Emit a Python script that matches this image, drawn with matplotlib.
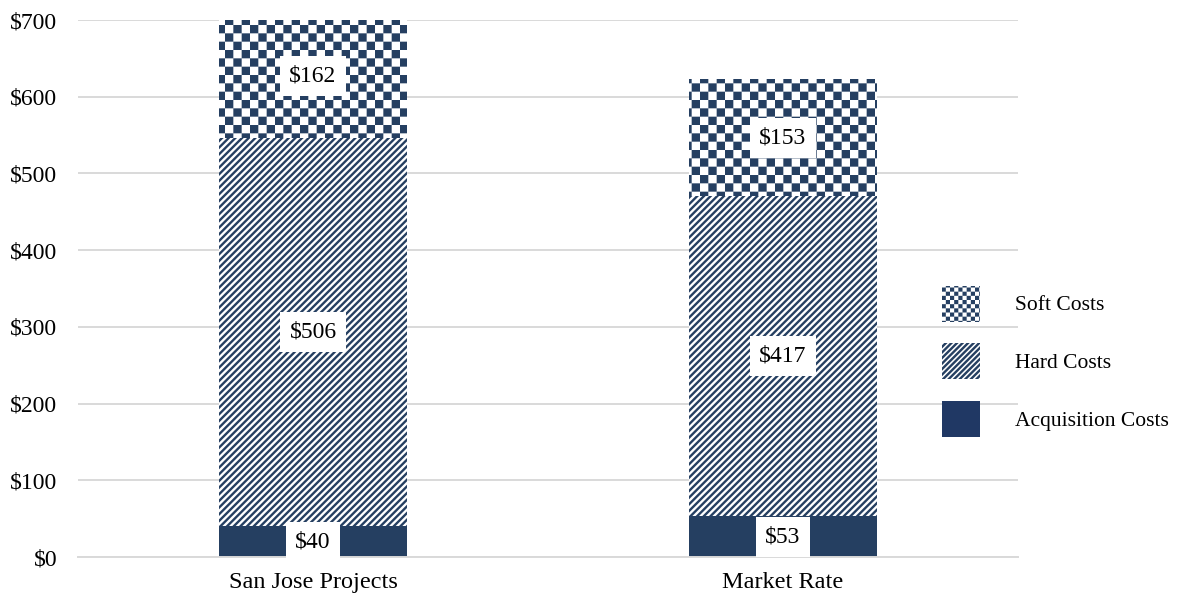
import warnings
import numpy as np
import matplotlib
matplotlib.use("Agg")
import matplotlib.pyplot as plt
import matplotlib.hatch as mhatch
from matplotlib.path import Path
from matplotlib.patches import Patch

warnings.filterwarnings("ignore")

# ---- data ----
categories = ["San Jose Projects", "Market Rate"]
acquisition = [40, 53]
hard = [506, 417]
soft = [162, 153]
legend_labels = ["Soft Costs", "Hard Costs", "Acquisition Costs"]
ytick_values = [0, 100, 200, 300, 400, 500, 600, 700]

NAVY = "#253f61"
GRID = "#d9d9d9"
HATCH_LW = 1.7  # points


class CheckerHatch(mhatch.HatchPatternBase):
    """Filled checkerboard hatch, selected with the 'c' character."""

    def __init__(self, hatch, density):
        self.n = int(hatch.count("c") * density)
        if self.n % 2:
            self.n += 1
        self.num_vertices = (self.n * self.n // 2) * 5 if self.n else 0

    def set_vertices_and_codes(self, vertices, codes):
        s = 1.0 / self.n
        # shrink by half the stroke width so fill + stroke gives full cells
        inset = (HATCH_LW / 72.0) / 2.0
        verts = []
        for i in range(self.n):
            for j in range(self.n):
                if (i + j) % 2 == 0:
                    x0, y0 = i * s + inset, j * s + inset
                    x1, y1 = (i + 1) * s - inset, (j + 1) * s - inset
                    verts += [(x0, y0), (x1, y0), (x1, y1), (x0, y1), (x0, y0)]
        vertices[:] = verts
        codes[:] = [Path.MOVETO, Path.LINETO, Path.LINETO,
                    Path.LINETO, Path.CLOSEPOLY] * (len(verts) // 5)


mhatch._hatch_types.append(CheckerHatch)

plt.rcParams["font.family"] = ["Liberation Serif", "DejaVu Serif"]
plt.rcParams["hatch.linewidth"] = HATCH_LW

fig = plt.figure(figsize=(11.86, 6.01), dpi=100)
ax = fig.add_axes([0.0658, 0.0732, 0.7926, 0.8935])

x = np.arange(len(categories))
width = 0.4

ax.bar(x, acquisition, width, color=NAVY, edgecolor=NAVY, linewidth=0,
       zorder=2)
ax.bar(x, hard, width, bottom=acquisition, facecolor="white",
       edgecolor=NAVY, hatch="/////", linewidth=0, zorder=2)
bottom_soft = np.array(acquisition) + np.array(hard)
ax.bar(x, soft, width, bottom=bottom_soft, facecolor="white",
       edgecolor=NAVY, hatch="cc", linewidth=0, zorder=2)

# value labels in white boxes, centred on each segment
label_box = dict(boxstyle="square,pad=0.4", facecolor="white", edgecolor="none")
for i in range(len(categories)):
    segs = [(0, acquisition[i]),
            (acquisition[i], hard[i]),
            (bottom_soft[i], soft[i])]
    for base, val in segs:
        ax.text(x[i], base + val / 2, f"${val}", ha="center", va="center",
                fontsize=17, color="black", bbox=label_box, zorder=4)

ax.set_xlim(-0.5, 1.5)
ax.set_ylim(0, 700)
ax.set_yticks(ytick_values)
ax.set_yticklabels([f"${v}" for v in ytick_values])
ax.set_xticks(x)
ax.set_xticklabels(categories)
ax.tick_params(axis="y", length=0, pad=15, labelsize=17)
ax.tick_params(axis="x", length=0, pad=11, labelsize=17.5)

ax.set_axisbelow(True)
ax.yaxis.grid(True, color=GRID, linewidth=1.4)
for side in ("top", "right", "left"):
    ax.spines[side].set_visible(False)
ax.spines["bottom"].set_color(GRID)
ax.spines["bottom"].set_linewidth(1.4)

handles = [
    Patch(facecolor="white", edgecolor=NAVY, hatch="cccc", linewidth=0),
    Patch(facecolor="white", edgecolor=NAVY, hatch="//////", linewidth=0),
    Patch(facecolor="#203864", edgecolor="#203864", linewidth=0),
]
fig.legend(handles, legend_labels,
           loc="center left", bbox_to_anchor=(0.794, 0.399), frameon=False,
           fontsize=15.5, handlelength=1.8, handleheight=2.2,
           labelspacing=1.0, handletextpad=1.6, borderpad=0,
           borderaxespad=0)

fig.savefig("out.png", dpi=100)
